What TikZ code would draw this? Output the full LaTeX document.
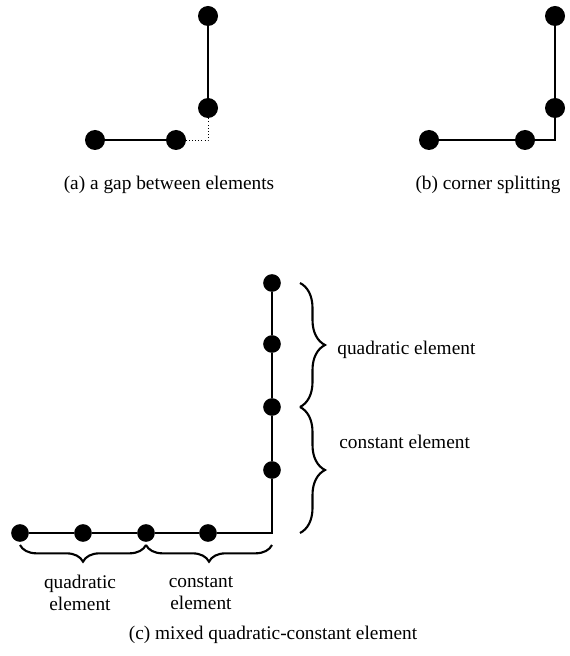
\documentclass[tikz,border=0pt]{standalone}
\usepackage{fontspec}
\setmainfont{Liberation Serif}
\usetikzlibrary{decorations.pathreplacing}
\begin{document}
\begin{tikzpicture}[x=0.03cm, y=-0.03cm,
		big dot/.style={circle,fill,inner sep=0pt,minimum size=0.6cm},
		small dot/.style={circle,fill,inner sep=0pt,minimum size=0.53cm},
		wire/.style={line width=2.4pt},
		gap/.style={dotted,line width=0.6pt},
		curly/.style={line width=1.8pt,decorate},
		label text/.style={font=\fontsize{16.5}{19}\selectfont,inner sep=1pt}]
		
		\useasboundingbox (0,0) rectangle (569,656);
		
		% (a)
		\node[big dot] (a1) at (95,140) {};
		\node[big dot] (a2) at (176,140) {};
		\node[big dot] (a3) at (208,108) {};
		\node[big dot] (a4) at (208,16) {};
		\draw[wire] (a1) -- (a2);
		\draw[wire] (a3) -- (a4);
		\draw[gap] (a2) -| (a3);
		\node[label text] (capa) at (169,185) {(a) a gap between elements};
		
		% (b)
		\node[big dot] (b1) at (429,140) {};
		\node[big dot] (b2) at (525,140) {};
		\node[big dot] (b3) at (555,108) {};
		\node[big dot] (b4) at (555,16) {};
		\draw[wire] (b1) -- (b2) -| (b3) -- (b4);
		\node[label text] (capb) at (488,185) {(b) corner splitting};
		
		% (c)
		\node[small dot] (h1) at (20,533) {};
		\node[small dot] (h2) at (83,533) {};
		\node[small dot] (h3) at (146,533) {};
		\node[small dot] (h4) at (208,533) {};
		\coordinate (corner) at (272,533);
		\node[small dot] (v1) at (272,470) {};
		\node[small dot] (v2) at (272,407) {};
		\node[small dot] (v3) at (272,344) {};
		\node[small dot] (v4) at (272,283) {};
		\draw[wire] (h1) -- (h2) -- (h3) -- (h4) -- (corner) -- (v1) -- (v2) -- (v3) -- (v4);
		
		\draw[curly,decoration={brace,amplitude=0.75cm,raise=0.84cm}] (v4.center) -- (v2.center);
		\draw[curly,decoration={brace,amplitude=0.75cm,raise=0.84cm}] (v2.center) -- (corner);
		\draw[curly,decoration={brace,mirror,amplitude=0.5cm,raise=0.36cm}] (h1.center) -- (h3.center);
		\draw[curly,decoration={brace,mirror,amplitude=0.5cm,raise=0.36cm}] (h3.center) -- (corner);
		
		\node[label text,anchor=west] (quadv) at (336,350) {quadratic element};
		\node[label text,anchor=west] (constv) at (338,442) {constant element};
		\node[label text,align=center] (quadh) at (80,593) {quadratic\\element};
		\node[label text,align=center] (consth) at (201,593) {constant\\element};
		\node[label text] (capc) at (273,635) {(c) mixed quadratic-constant element};
		
	\end{tikzpicture}
\end{document}
